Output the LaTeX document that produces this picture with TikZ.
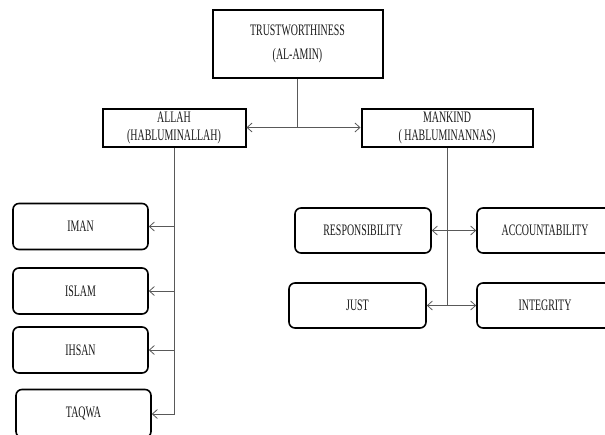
\documentclass[tikz,border=0pt]{standalone}
\usepackage{fontspec}
\setmainfont{Liberation Serif}[FakeStretch=0.62]
\usepackage{tikz}
\usetikzlibrary{positioning,arrows.meta}

\begin{document}
\begin{tikzpicture}[x=1pt,y=-1pt]
\tikzstyle{every node}+=[inner sep=0pt,font=\fontsize{16}{18}\selectfont,text=black!90]
\tikzstyle{headbox}=[draw=black,line width=2pt,align=center]
\tikzstyle{itembox}=[draw=black,line width=1.6pt,rounded corners=6pt,minimum width=135pt,minimum height=46pt]
\tikzstyle{link}=[draw=black!65,line width=0.8pt]
\tikzstyle{tip}=[-{Straight Barb[length=5pt,width=9pt]}]
\tikzstyle{tips}=[{Straight Barb[length=5pt,width=9pt]}-{Straight Barb[length=5pt,width=9pt]}]
\useasboundingbox (0,0) rectangle (605,434);
\clip (0,0) rectangle (605,434);
\node [headbox,minimum width=170pt,minimum height=68pt,font=\fontsize{16}{24}\selectfont] (trust) at (297.5,43.5) {TRUSTWORTHINESS\\(AL-AMIN)};
\node [headbox,minimum width=143pt,minimum height=38pt] (allah) at (174,127.5) {ALLAH\\(HABLUMINALLAH)};
\node [headbox,minimum width=171pt,minimum height=38pt] (mankind) at (447,127.5) {MANKIND\\( HABLUMINANNAS)};
\node [itembox] (iman) at (80.5,226.5) {IMAN};
\node [itembox] (islam) at (80.5,291) {ISLAM};
\node [itembox] (ihsan) at (80.5,350) {IHSAN};
\node [itembox,minimum height=48pt] (taqwa) at (83.5,413.5) {TAQWA};
\node [itembox,minimum width=136pt,minimum height=45pt] (resp) at (363,230.5) {RESPONSIBILITY};
\node [itembox,minimum width=136pt,minimum height=45pt] (account) at (545,230.5) {ACCOUNTABILITY};
\node [itembox,minimum width=137pt,minimum height=45pt] (just) at (357.5,305.5) {JUST};
\node [itembox,minimum width=136pt,minimum height=45pt] (integ) at (545,305.5) {INTEGRITY};
\draw [link] (trust.south) -- (trust.south |- allah.east);
\draw [link,tips] (allah.east) -- (mankind.west);
\draw [link,tip] (allah.south) |- ([yshift=-0.5pt]taqwa.east);
\draw [link,tip] (allah.south |- iman.east) -- (iman.east);
\draw [link,tip] (allah.south |- islam.east) -- (islam.east);
\draw [link,tip] (allah.south |- ihsan.east) -- (ihsan.east);
\draw [link] (mankind.south) -- (mankind.south |- just.east);
\draw [link,tips] (resp.east) -- (account.west);
\draw [link,tips] (just.east) -- (integ.west);
\end{tikzpicture}
\end{document}
